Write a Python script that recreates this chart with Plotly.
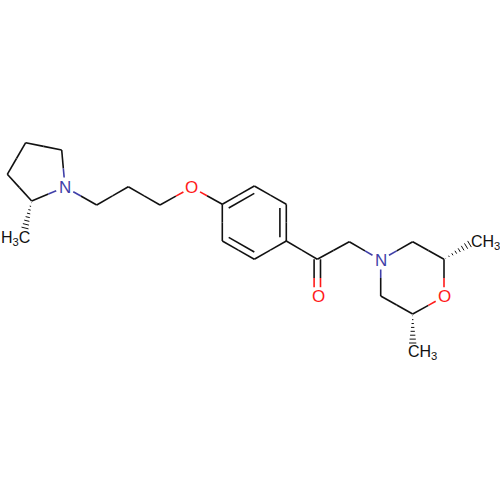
import numpy as np
import plotly.graph_objects as go

# atom positions (pixels, y down)
atom_x = [25.7, 61.7, 65, 31.7, 7.3, 96.7, 128.3, 160, 191.7, 222.3, 254.3, 286.3, 286.3, 254.3, 222.3,
          317.3, 317.3, 349.3, 380.7, 412.7, 444, 444, 412.7, 380.7]
atom_y = [142.7, 150, 187, 201, 174.3, 205, 186.7, 205, 187.3, 204.3, 186, 204.3, 241, 259.3, 241,
          259.3, 296.7, 241.7, 260, 241.7, 259.3, 296.7, 314, 296]
atom_el = ['C', 'C', 'N', 'C', 'C', 'C', 'C', 'C', 'O', 'C', 'C', 'C', 'C', 'C', 'C',
           'C', 'O', 'C', 'N', 'C', 'C', 'O', 'C', 'C']

bond_a = [0, 1, 2, 3, 4, 2, 5, 6, 7, 8, 9, 10, 11, 12, 13, 14, 12, 15, 17, 18, 19, 20, 21, 22, 23]
bond_b = [1, 2, 3, 4, 0, 5, 6, 7, 8, 9, 10, 11, 12, 13, 14, 9, 15, 17, 18, 19, 20, 21, 22, 23, 18]

# inner ring lines (aromatic)
ring_a = [9, 11, 13]
ring_b = [10, 12, 14]

# hashed wedges: start atom, end of wedge
wedge_atom = [3, 20, 22]
wedge_x = [25, 469.5, 412.7]
wedge_y = [228, 244, 343]

label_x = [65, 191.7, 318, 380.7, 444]
label_y = [187, 187.3, 296.7, 260, 296.7]
label_text = ['N', 'O', 'O', 'N', 'O']
methyl_x = [15.5, 485, 422]
methyl_y = [238, 242, 352.5]
methyl_text = ['H<sub>3</sub>C', 'CH<sub>3</sub>', 'CH<sub>3</sub>']

colors = {'C': '#111111', 'N': '#3f3fa8', 'O': '#ff1a1a'}
GAP = 9.5


def trim(p, q, el):
    # shorten the end of a bond that sits on a heteroatom label
    d = np.hypot(q[0] - p[0], q[1] - p[1])
    return GAP / d if el != 'C' else 0.0


segs = {'C': ([], []), 'N': ([], []), 'O': ([], [])}


def add_seg(el, x0, y0, x1, y1):
    segs[el][0].extend([x0, x1, None])
    segs[el][1].extend([y0, y1, None])


def add_bond(p, q, el_p, el_q):
    t0 = trim(p, q, el_p)
    t1 = 1 - trim(p, q, el_q)
    mx, my = (p[0] + q[0]) / 2, (p[1] + q[1]) / 2
    add_seg(el_p, p[0] + (q[0] - p[0]) * t0, p[1] + (q[1] - p[1]) * t0, mx, my)
    add_seg(el_q, mx, my, p[0] + (q[0] - p[0]) * t1, p[1] + (q[1] - p[1]) * t1)


for a, b in zip(bond_a, bond_b):
    add_bond((atom_x[a], atom_y[a]), (atom_x[b], atom_y[b]), atom_el[a], atom_el[b])

# aromatic inner lines pulled towards the ring centre
cx, cy = np.mean(atom_x[9:15]), np.mean(atom_y[9:15])
for a, b in zip(ring_a, ring_b):
    add_seg('C', atom_x[a] + (cx - atom_x[a]) * 0.2, atom_y[a] + (cy - atom_y[a]) * 0.2,
            atom_x[b] + (cx - atom_x[b]) * 0.2, atom_y[b] + (cy - atom_y[b]) * 0.2)

# C=O drawn as two lines either side of the bond axis
for off in [-3.2, 3.2]:
    add_bond((atom_x[15] + off, atom_y[15]), (atom_x[16] + off, atom_y[16]), 'C', 'O')

fig = go.Figure()
for el, (xs, ys) in segs.items():
    fig.add_trace(go.Scatter(x=xs, y=ys, mode='lines', line=dict(color=colors[el], width=1.6),
                             hoverinfo='skip', showlegend=False))

# hash marks get wider away from the stereo centre
hx, hy = [], []
for a, ex, ey in zip(wedge_atom, wedge_x, wedge_y):
    x0, y0 = atom_x[a], atom_y[a]
    dx, dy = ex - x0, ey - y0
    d = np.hypot(dx, dy)
    for t in np.linspace(0.06, 1, 8):
        w = 3.6 * t
        mx, my = x0 + dx * t, y0 + dy * t
        hx.extend([mx - dy / d * w, mx + dy / d * w, None])
        hy.extend([my + dx / d * w, my - dx / d * w, None])
fig.add_trace(go.Scatter(x=hx, y=hy, mode='lines', line=dict(color=colors['C'], width=1),
                         hoverinfo='skip', showlegend=False))

for x, y, t in zip(label_x, label_y, label_text):
    fig.add_annotation(x=x, y=y, text=t, showarrow=False,
                       font=dict(family='Liberation Sans', size=17, color=colors['N'] if t == 'N' else colors['O']))
for x, y, t in zip(methyl_x, methyl_y, methyl_text):
    fig.add_annotation(x=x, y=y, text=t, showarrow=False,
                       font=dict(family='Liberation Sans', size=16, color=colors['C']))

fig.update_layout(width=500, height=500, margin=dict(l=0, r=0, t=0, b=0),
                  plot_bgcolor='white', paper_bgcolor='white', showlegend=False,
                  xaxis=dict(range=[0, 500], visible=False),
                  yaxis=dict(range=[500, 0], visible=False))

fig.write_html("out.html", config=dict(displayModeBar=False), post_script="document.body.style.margin='0';")
